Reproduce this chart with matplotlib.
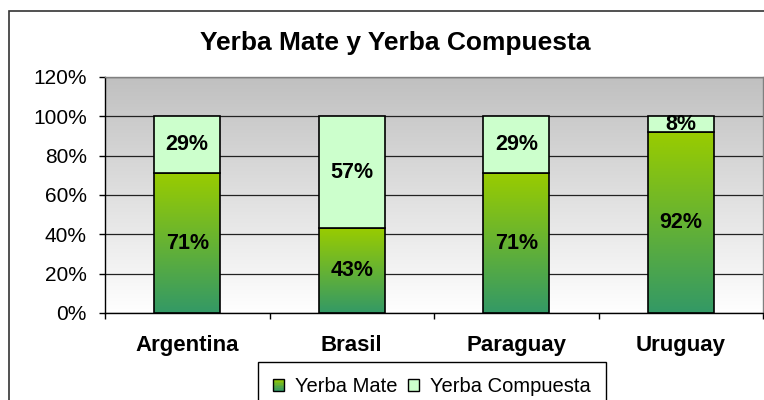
import numpy as np
import matplotlib
matplotlib.use("Agg")
import matplotlib.pyplot as plt
from matplotlib.colors import LinearSegmentedColormap, to_rgb
from matplotlib.patches import Rectangle, Patch
from matplotlib.legend_handler import HandlerBase

paises = ["Argentina", "Brasil", "Paraguay", "Uruguay"]
yerba_mate = [71, 43, 71, 92]
yerba_compuesta = [29, 57, 29, 8]
series = ["Yerba Mate", "Yerba Compuesta"]
y_ticks = [0, 20, 40, 60, 80, 100, 120]

plt.rcParams["font.family"] = ["Liberation Sans", "DejaVu Sans"]

VERDE_ABAJO, VERDE_ARRIBA = "#339966", "#99cc00"
CLARO = "#ccffcc"
verde = LinearSegmentedColormap.from_list("verde", [VERDE_ABAJO, VERDE_ARRIBA])
gris = LinearSegmentedColormap.from_list("gris", ["#ffffff", "#c0c0c0"])
grad = np.linspace(0, 1, 256).reshape(-1, 1)


class HandlerDegradado(HandlerBase):
    # little square filled with the same green gradient as the bars
    def create_artists(self, legend, orig, xd, yd, width, height, fontsize, trans):
        n = 8
        arts = []
        c0, c1 = np.array(to_rgb(VERDE_ABAJO)), np.array(to_rgb(VERDE_ARRIBA))
        for i in range(n):
            c = c0 + (c1 - c0) * i / (n - 1)
            arts.append(Rectangle((-xd, -yd + height * i / n), width, height / n,
                                  facecolor=c, edgecolor="none", transform=trans))
        arts.append(Rectangle((-xd, -yd), width, height, facecolor="none",
                              edgecolor="black", lw=1, transform=trans))
        return arts


fig = plt.figure(figsize=(7.64, 4), dpi=100)
ax = fig.add_axes([105 / 764, 87 / 400, 658 / 764, 236 / 400])
x = np.arange(len(paises))

# plot area gradient (gray at top -> white at bottom)
ax.imshow(grad, cmap=gris, origin="lower", aspect="auto", extent=[0, 1, 0, 1],
          transform=ax.transAxes, zorder=0)

ax.yaxis.grid(True, color="#222222", lw=0.9)
ax.set_axisbelow(True)

bm = ax.bar(x, yerba_mate, width=0.4, color="none", edgecolor="black", lw=1.2, zorder=3)
for r in bm:
    ax.imshow(grad, cmap=verde, origin="lower", aspect="auto",
              extent=[r.get_x(), r.get_x() + r.get_width(), 0, r.get_height()], zorder=2.5)
bc = ax.bar(x, yerba_compuesta, bottom=yerba_mate, width=0.4, color=CLARO,
            edgecolor="black", lw=1.2, zorder=3)

ax.bar_label(bm, labels=[f"{v}%" for v in yerba_mate], label_type="center",
             fontsize=15.5, fontweight="bold", zorder=5)
ax.bar_label(bc, labels=[f"{v}%" for v in yerba_compuesta], label_type="center",
             fontsize=15.5, fontweight="bold", zorder=5)

ax.set_xlim(-0.5, len(paises) - 0.5)
ax.set_ylim(0, 120)

ax.set_yticks(y_ticks)
ax.set_yticklabels([f"{v}%" for v in y_ticks])
ax.tick_params(axis="y", length=4.5, width=1, pad=8.5, labelsize=15)

ax.set_xticks(x)
ax.set_xticklabels(paises, fontsize=16, fontweight="bold")
ax.set_xticks(np.arange(-0.5, len(paises)), minor=True)
ax.tick_params(axis="x", which="major", length=0, pad=16)
ax.tick_params(axis="x", which="minor", length=4, width=1)

for s in ["left", "bottom"]:
    ax.spines[s].set_color("black")
    ax.spines[s].set_linewidth(1)
for s in ["top", "right"]:
    ax.spines[s].set_color("#808080")
    ax.spines[s].set_linewidth(1)

fig.text(395.5 / 764, 1 - 50 / 400, "Yerba Mate y Yerba Compuesta", ha="center",
         va="baseline", fontsize=19, fontweight="bold")

handles = [Patch(label=series[0]),
           Patch(facecolor=CLARO, edgecolor="black", lw=1, label=series[1])]
leg = fig.legend(handles=handles, loc="upper center", bbox_to_anchor=(432 / 764, 1 - 362 / 400),
                 ncol=2, fontsize=14.5, frameon=True, fancybox=False, edgecolor="black",
                 framealpha=1, borderpad=0.75, handlelength=0.55, handleheight=0.55,
                 handletextpad=0.55, columnspacing=0.5, borderaxespad=0,
                 handler_map={handles[0]: HandlerDegradado()})
leg.get_frame().set_linewidth(1)

fig.add_artist(Rectangle((9 / 764, -0.05), 1.0, 1 - 10.5 / 400 + 0.05,
                         transform=fig.transFigure, fill=False,
                         edgecolor="#333333", lw=1.2))

fig.savefig("out.png", dpi=100)
